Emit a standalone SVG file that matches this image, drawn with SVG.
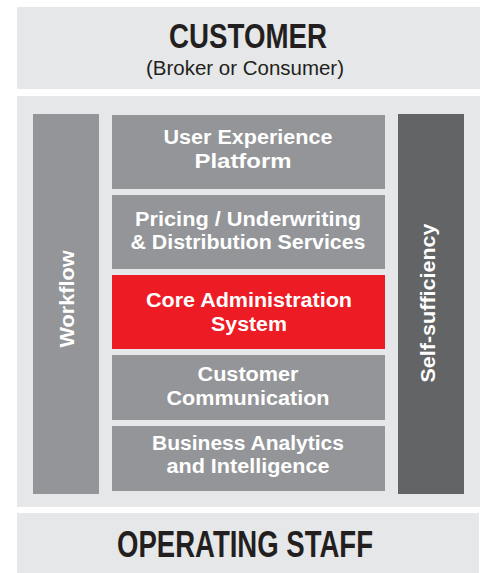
<svg xmlns="http://www.w3.org/2000/svg" width="482" height="573" viewBox="0 0 482 573">
<style>
.band{fill:#e6e7e8}
.box{fill:#939598}
.red{fill:#ed1c24}
.dark{fill:#636466}
.t{font-family:"Liberation Sans",Arial,sans-serif;font-weight:bold;font-size:20px;fill:#ffffff;text-anchor:middle}
.h{font-family:"Liberation Sans Narrow","Liberation Sans",Arial,sans-serif;font-weight:bold;font-size:35px;fill:#231f20;text-anchor:middle}
.s{font-family:"Liberation Sans",Arial,sans-serif;font-size:20px;fill:#231f20;text-anchor:middle}
</style>
<rect width="482" height="573" fill="#ffffff"/>
<g id="customer">
<rect class="band" x="17" y="7" width="463" height="82"/>
<text class="h" x="248" y="48" textLength="158" lengthAdjust="spacingAndGlyphs">CUSTOMER</text>
<text class="s" x="245" y="75" textLength="198" lengthAdjust="spacingAndGlyphs">(Broker or Consumer)</text>
</g>
<g id="main-panel">
<rect class="band" x="17" y="96" width="463" height="411"/>
</g>
<g id="workflow">
<rect class="box" x="33" y="114" width="66" height="380"/>
<text class="t" transform="translate(74,299) rotate(-90)" textLength="97" lengthAdjust="spacingAndGlyphs">Workflow</text>
</g>
<g id="self-sufficiency">
<rect class="dark" x="398" y="114" width="66" height="380"/>
<text class="t" transform="translate(435,303) rotate(-90)" textLength="159" lengthAdjust="spacingAndGlyphs">Self-sufficiency</text>
</g>
<g id="user-experience">
<rect class="box" x="112" y="115" width="273" height="74"/>
<text class="t" x="248" y="144" textLength="169" lengthAdjust="spacingAndGlyphs">User Experience</text>
<text class="t" x="243" y="168" textLength="97" lengthAdjust="spacingAndGlyphs">Platform</text>
</g>
<g id="pricing">
<rect class="box" x="112" y="195" width="273" height="74"/>
<text class="t" x="248" y="226" textLength="226" lengthAdjust="spacingAndGlyphs">Pricing / Underwriting</text>
<text class="t" x="248" y="249" textLength="235" lengthAdjust="spacingAndGlyphs">&amp; Distribution Services</text>
</g>
<g id="core-admin">
<rect class="red" x="112" y="275" width="273" height="74"/>
<text class="t" x="249" y="307" textLength="206" lengthAdjust="spacingAndGlyphs">Core Administration</text>
<text class="t" x="249" y="331" textLength="76" lengthAdjust="spacingAndGlyphs">System</text>
</g>
<g id="customer-communication">
<rect class="box" x="112" y="355" width="273" height="65"/>
<text class="t" x="248" y="381" textLength="101" lengthAdjust="spacingAndGlyphs">Customer</text>
<text class="t" x="248" y="405" textLength="163" lengthAdjust="spacingAndGlyphs">Communication</text>
</g>
<g id="business-analytics">
<rect class="box" x="112" y="426" width="273" height="65"/>
<text class="t" x="248" y="450" textLength="192" lengthAdjust="spacingAndGlyphs">Business Analytics</text>
<text class="t" x="248" y="473" textLength="163" lengthAdjust="spacingAndGlyphs">and Intelligence</text>
</g>
<g id="operating-staff">
<rect class="band" x="17" y="513" width="462" height="60"/>
<text class="h" x="245" y="557" font-size="36" style="font-size:36px" textLength="256" lengthAdjust="spacingAndGlyphs">OPERATING STAFF</text>
</g>
<g id="connectors"></g>
</svg>
